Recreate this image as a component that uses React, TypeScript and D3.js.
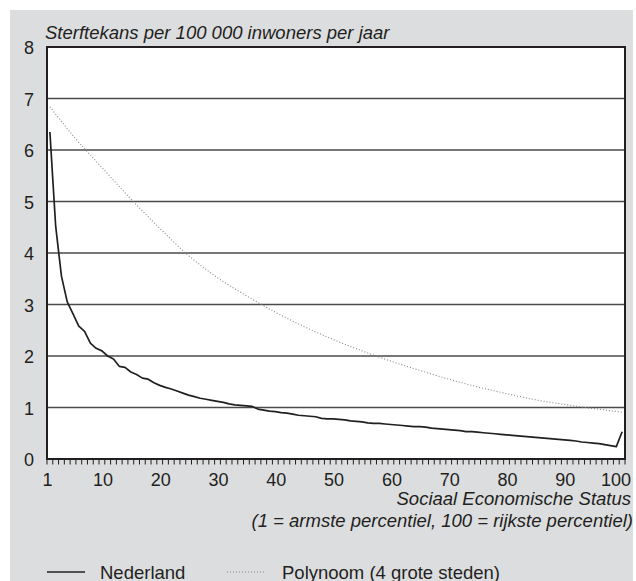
import React from "react";
import * as d3 from "d3";

const percentiles: number[] = d3.range(1, 101);

const nederland: number[] = [
  6.35, 4.52, 3.55, 3.05, 2.82, 2.58, 2.48, 2.25, 2.15, 2.1,
  2.0, 1.94, 1.8, 1.78, 1.69, 1.64, 1.57, 1.55, 1.48, 1.43,
  1.39, 1.36, 1.32, 1.28, 1.24, 1.21, 1.18, 1.16, 1.14, 1.12,
  1.1, 1.07, 1.05, 1.04, 1.03, 1.02, 0.97, 0.95, 0.93, 0.92,
  0.9, 0.89, 0.87, 0.85, 0.84, 0.83, 0.82, 0.79, 0.78, 0.78,
  0.77, 0.76, 0.74, 0.73, 0.72, 0.7, 0.69, 0.69, 0.68, 0.67,
  0.66, 0.65, 0.64, 0.63, 0.63, 0.62, 0.6, 0.59, 0.58, 0.57,
  0.56, 0.55, 0.53, 0.53, 0.52, 0.51, 0.5, 0.49, 0.48, 0.47,
  0.46, 0.45, 0.44, 0.43, 0.42, 0.41, 0.4, 0.39, 0.38, 0.37,
  0.36, 0.35, 0.33, 0.32, 0.31, 0.3, 0.28, 0.26, 0.24, 0.53,
];

const polyX: number[] = [1, 5, 10, 15, 20, 25, 30, 35, 40, 45, 50, 55, 60, 65, 70, 75, 80, 85, 90, 95, 100];
const polyY: number[] = [6.84, 6.28, 5.66, 5.05, 4.48, 3.95, 3.52, 3.17, 2.85, 2.57, 2.32, 2.1, 1.9, 1.72, 1.55, 1.4, 1.27, 1.15, 1.06, 0.98, 0.91];

const yTicks: number[] = [0, 1, 2, 3, 4, 5, 6, 7, 8];
const xTickLabels: number[] = [1, 10, 20, 30, 40, 50, 60, 70, 80, 90, 100];

const title = "Sterftekans per 100 000 inwoners per jaar";
const xTitle1 = "Sociaal Economische Status";
const xTitle2 = "(1 = armste percentiel, 100 = rijkste percentiel)";
const legendLabels: string[] = ["Nederland", "Polynoom (4 grote steden)"];

const W = 636;
const H = 581;
const L = 47, R = 625, T = 47, B = 459;
const INK = "#231f20";
const FONT = "'Liberation Sans', Arial, Helvetica, sans-serif";

export default function App() {
  const x = d3.scaleLinear().domain([0.5, 100.5]).range([L, R]);
  const y = d3.scaleLinear().domain([0, 8]).range([B, T]);

  const lineGen = d3
    .line<[number, number]>()
    .x((d) => x(d[0]))
    .y((d) => y(d[1]));

  const nlPath = lineGen(percentiles.map((p, i) => [p, nederland[i]]) as [number, number][]) || "";
  const polyPath =
    d3
      .line<[number, number]>()
      .x((d) => x(d[0]))
      .y((d) => y(d[1]))
      .curve(d3.curveMonotoneX)(polyX.map((p, i) => [p, polyY[i]]) as [number, number][]) || "";

  const minorTicks = d3.range(0, 101).map((k) => k + 0.5);

  return (
    <svg
      width={W}
      height={H}
      style={{ position: "absolute", left: 0, top: 0 }}
      fontFamily={FONT}
    >
      <rect x={0} y={0} width={W} height={H} fill="#ffffff" />
      <rect x={10} y={10} width={623} height={H - 10} fill="#dcdddf" />
      <rect x={L} y={T} width={R - L} height={B - T} fill="#ffffff" />

      {yTicks
        .filter((v) => v > 0 && v < 8)
        .map((v) => (
          <line key={"g" + v} x1={L} x2={R} y1={y(v)} y2={y(v)} stroke="#4a4a4a" strokeWidth={1.4} />
        ))}

      <path d={polyPath} fill="none" stroke="#858585" strokeWidth={1.1} strokeDasharray="1 2" />
      <path d={nlPath} fill="none" stroke={INK} strokeWidth={1.7} strokeLinejoin="round" />

      <rect x={L} y={T} width={R - L} height={B - T} fill="none" stroke={INK} strokeWidth={2} />

      {minorTicks.map((t) => (
        <line key={"t" + t} x1={x(t)} x2={x(t)} y1={B} y2={B + 5.5} stroke={INK} strokeWidth={1} />
      ))}

      {yTicks.map((v) => (
        <text key={"y" + v} x={34} y={y(v) + 7} textAnchor="end" fontSize={18} fill={INK}>
          {v}
        </text>
      ))}

      {xTickLabels.map((v) => {
        let xp = x(v) + 1;
        let anchor: "middle" | "end" = "middle";
        if (v === 1) xp = x(0.5) + 0.5;
        if (v === 100) {
          xp = 631;
          anchor = "end";
        }
        return (
          <text key={"x" + v} x={xp} y={485.5} textAnchor={anchor} fontSize={18} fill={INK}>
            {v}
          </text>
        );
      })}

      <text x={45} y={39} fontSize={18.5} fontStyle="italic" fill={INK}>
        {title}
      </text>
      <text x={631} y={504.5} textAnchor="end" fontSize={18.5} fontStyle="italic" fill={INK}>
        {xTitle1}
      </text>
      <text x={633} y={527} textAnchor="end" fontSize={18.5} fontStyle="italic" fill={INK}>
        {xTitle2}
      </text>

      <line x1={47} x2={85} y1={572} y2={572} stroke={INK} strokeWidth={1.7} />
      <text x={100} y={578.5} fontSize={18.5} fill={INK}>
        {legendLabels[0]}
      </text>
      <line x1={227} x2={265} y1={572} y2={572} stroke="#858585" strokeWidth={1.1} strokeDasharray="1 2" />
      <text x={282} y={578.5} fontSize={18.5} fill={INK}>
        {legendLabels[1]}
      </text>
    </svg>
  );
}
